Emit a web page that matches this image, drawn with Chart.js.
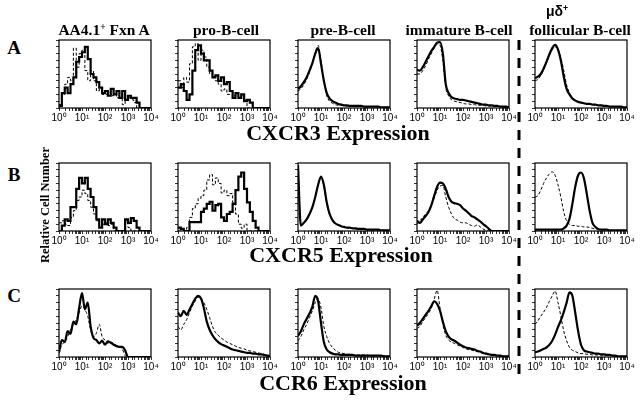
<!DOCTYPE html>
<html>
<head>
<meta charset="utf-8">
<script src="https://cdn.jsdelivr.net/npm/chart.js@4.4.1/dist/chart.umd.min.js"></script>
<style>
  body { margin: 0; background: #fff; }
  #fig { position: relative; width: 640px; height: 400px; overflow: hidden; background: #fff; }
  #fig canvas { position: absolute; }
  .t { position: absolute; white-space: nowrap; color: #000; font-family: "Liberation Serif", "Times New Roman", serif; font-weight: bold; }
  .t sup { font-size: 0.62em; vertical-align: 0.55em; line-height: 0; }
</style>
</head>
<body>
<div id="fig"></div>
<script>
// channel bins on the log axis (fluorescence intensity)
const bins = [1, 1.33, 1.78, 2.37, 3.16, 4.22, 5.62, 7.5, 10, 13.3, 17.8, 23.7, 31.6, 42.2, 56.2, 75,
  100, 133, 178, 237, 316, 422, 562, 750, 1000, 1330, 1780, 2370, 3160, 4220, 5620, 7500, 10000];
const tickLabels = ['10⁰', '10¹', '10²', '10³', '10⁴'];
const cellTypes = ['AA4.1<sup>+</sup> Fxn A', 'pro-B-cell', 'pre-B-cell', 'immature B-cell', 'follicular B-cell'];
const receptors = ['CXCR3', 'CXCR5', 'CCR6'];
const rowLetters = ['A', 'B', 'C'];

// relative cell number (% of panel height); stain = solid, ctrl = dashed
const cxcr3Fxn      = [3,22,30,22,35, 45,68,75,82,90, 72,50,45,38,30, 22,25,18,28,20, 25,15,25,12,18, 15,15,8,0,0, 0,0,0];
const cxcr3FxnCtrl  = [5,20,35,45,40, 88,60,80,85,55, 40,55,40,25,28, 20,20,22,18,20, 15,22,5,12,15, 12,8,0,0,0, 0,0,0];
const cxcr3Pro      = [30,35,25,12,20, 55,85,92,80,70, 70,55,45,48,40, 45,35,38,25,15, 22,15,20,10,12, 8,0,0,0,0, 0,0,0];
const cxcr3ProCtrl  = [40,30,45,38,65, 90,95,70,85,75, 60,50,45,40,35, 25,28,20,25,18, 22,15,18,12,0, 0,0,0,0,0, 0,0,0];
const cxcr3Pre      = [28,32,38,45,55, 66,80,88,65,40, 22,14,10,8,6, 5,4,4,3,3, 3,3,3,2,2, 2,2,2,2,1, 1,1,1];
const cxcr3PreCtrl  = [25,28,34,42,52, 66,82,92,70,40, 18,10,7,5,4, 4,3,3,2,2, 2,2,2,2,2, 2,2,2,2,1, 1,1,1];
const cxcr3Imm      = [56,55,60,68,76, 84,90,96,97,80, 35,22,16,14,13, 12,12,11,10,9, 8,7,6,5,5, 4,4,3,3,2, 2,2,1];
const cxcr3ImmCtrl  = [50,50,55,62,72, 80,88,94,92,70, 30,18,12,10,9, 8,7,6,6,5, 5,4,4,4,3, 3,3,2,2,2, 1,1,1];
const cxcr3Fol      = [44,46,50,58,68, 79,88,93,86,70, 46,28,20,14,11, 9,8,7,6,6, 5,5,4,4,3, 3,2,2,2,2, 2,1,1];
const cxcr3FolCtrl  = [40,42,48,56,66, 77,86,90,86,74, 55,34,22,15,11, 9,8,7,6,6, 5,5,4,4,3, 3,2,2,2,2, 2,1,1];

const cxcr5Fxn      = [0,8,17,15,35, 35,62,78,70,78, 62,50,35,17,5, 17,10,17,12,5, 0,0,0,17,12, 19,15,5,0,0, 0,0,0];
const cxcr5FxnCtrl  = [12,15,10,8,20, 30,45,50,60,55, 45,35,25,15,5, 10,12,8,10,0, 0,0,0,15,5, 0,0,0,0,0, 0,0,0];
const cxcr5Pro      = [5,3,0,0,13, 13,13,13,28,33, 40,43,30,38,40, 20,15,25,28,40, 60,80,86,62,42, 28,15,5,0,0, 0,0,0];
const cxcr5ProCtrl  = [0,0,0,5,20, 33,40,48,52,60, 75,83,68,78,70, 56,60,52,55,42, 25,10,4,10,0, 0,0,0,0,0, 0,0,0];
const cxcr5Pre      = [97,8,12,17,25, 35,50,68,80,68, 42,25,16,11,9, 7,6,5,5,4, 4,3,3,3,2, 2,2,2,2,1, 1,1,1];
const cxcr5PreCtrl  = [95,8,11,16,24, 34,50,68,80,66, 40,24,15,11,8, 7,6,5,4,4, 3,3,3,2,2, 2,2,2,2,1, 1,1,1];
const cxcr5Imm      = [15,12,17,22,28, 38,52,65,71,70, 62,50,43,41,40, 38,33,30,26,22, 20,17,14,10,7, 3,0,0,0,0, 0,0,0];
const cxcr5ImmCtrl  = [10,15,20,25,30, 38,48,60,66,67, 50,35,25,18,16, 13,12,12,10,8, 7,9,6,3,1, 0,0,0,0,0, 0,0,0];
const cxcr5Fol      = [2,2,2,2,2, 2,2,2,2,2, 4,8,18,40,65, 82,86,78,55,30, 12,6,3,2,2, 2,1,1,1,1, 1,1,1];
const cxcr5FolCtrl  = [50,52,60,70,78, 84,87,82,68,50, 28,15,10,8,8, 7,7,6,6,5, 4,3,3,2,2, 2,1,1,1,1, 1,1,1];

const ccr6Fxn       = [7,25,22,38,34, 52,48,72,94,70, 80,45,28,25,20, 24,18,23,21,18, 16,15,15,10,0, 0,0,0,0,0, 0,0,0];
const ccr6FxnCtrl   = [5,18,22,30,40, 48,55,65,75,70, 60,40,30,35,48, 30,25,20,22,20, 17,15,12,2,0, 0,0,0,0,0, 0,0,0];
const ccr6Pro       = [65,60,68,62,70, 78,86,90,86,72, 52,40,32,26,22, 19,17,15,13,11, 10,9,8,7,6, 6,5,5,4,4, 3,2,1];
const ccr6ProCtrl   = [45,40,48,55,65, 75,82,88,86,80, 70,58,45,36,32, 28,25,22,20,18, 16,14,13,12,10, 9,8,7,6,5, 4,3,2];
const ccr6Pre       = [31,38,48,56,64, 74,90,82,50,22, 11,7,5,4,4, 3,3,3,3,3, 2,2,2,2,2, 2,2,2,2,2, 1,1,1];
const ccr6PreCtrl   = [24,30,40,48,58, 68,80,86,72,45, 30,20,14,10,7, 6,5,4,4,3, 3,3,3,3,3, 2,2,2,2,2, 2,1,1];
const ccr6Imm       = [46,50,56,62,68, 75,82,78,68,52, 38,30,26,24,21, 18,16,14,13,12, 11,9,8,6,5, 4,3,3,2,2, 1,1,1];
const ccr6ImmCtrl   = [42,45,52,58,64, 72,85,98,72,48, 32,25,22,20,18, 16,14,12,11,10, 9,8,7,5,4, 3,3,2,2,2, 1,1,1];
const ccr6Fol       = [7,8,10,12,14, 18,24,33,44,54, 66,80,95,90,65, 38,18,10,8,7, 6,5,5,4,4, 3,3,2,2,1, 1,1,1];
const ccr6FolCtrl   = [48,53,60,66,73, 82,90,97,80,60, 38,24,14,10,8, 6,5,5,4,4, 3,3,3,3,2, 2,2,2,2,1, 1,1,1];

// [stain, control, coarse step histogram?] per row, per column
const panels = [
  [[cxcr3Fxn, cxcr3FxnCtrl, true], [cxcr3Pro, cxcr3ProCtrl, true], [cxcr3Pre, cxcr3PreCtrl, false],
   [cxcr3Imm, cxcr3ImmCtrl, false], [cxcr3Fol, cxcr3FolCtrl, false]],
  [[cxcr5Fxn, cxcr5FxnCtrl, true], [cxcr5Pro, cxcr5ProCtrl, true], [cxcr5Pre, cxcr5PreCtrl, false],
   [cxcr5Imm, cxcr5ImmCtrl, false], [cxcr5Fol, cxcr5FolCtrl, false]],
  [[ccr6Fxn, ccr6FxnCtrl, false], [ccr6Pro, ccr6ProCtrl, false], [ccr6Pre, ccr6PreCtrl, false],
   [ccr6Imm, ccr6ImmCtrl, false], [ccr6Fol, ccr6FolCtrl, false]],
];

// layout
const colLeft = [59, 178, 298, 417, 535];
const rowTop = [40, 163, 289];
const boxW = 92, boxH = 68;
const padL = 10, padR = 12, padT = 4, axisH = 17;

const fig = document.getElementById('fig');

const frame = {
  id: 'frame',
  afterDraw(chart) {
    const a = chart.chartArea;
    const ctx = chart.ctx;
    ctx.save();
    ctx.strokeStyle = '#000';
    ctx.lineWidth = 1.2;
    ctx.strokeRect(a.left, a.top, a.right - a.left, a.bottom - a.top);
    ctx.restore();
  },
};

function series(values, solid, coarse) {
  return {
    data: bins.map((x, i) => ({ x, y: values[i] })),
    borderColor: '#000',
    borderWidth: solid ? 2.2 : 1,
    borderDash: solid ? [] : [3, 2],
    pointRadius: 0,
    stepped: coarse,
    cubicInterpolationMode: coarse ? 'default' : 'monotone',
    fill: false,
  };
}

function drawPanel(r, c) {
  const [stain, ctrl, coarse] = panels[r][c];
  const canvas = document.createElement('canvas');
  canvas.width = boxW + padL + padR;
  canvas.height = boxH + padT + axisH;
  canvas.style.left = (colLeft[c] - padL) + 'px';
  canvas.style.top = (rowTop[r] - padT) + 'px';
  fig.appendChild(canvas);

  new Chart(canvas, {
    type: 'line',
    data: { datasets: [series(stain, true, coarse), series(ctrl, false, coarse)] },
    options: {
      responsive: false,
      animation: false,
      devicePixelRatio: 1,
      layout: { padding: { left: 0, right: padR, top: padT, bottom: 0 } },
      plugins: { legend: { display: false }, tooltip: { enabled: false } },
      scales: {
        x: {
          type: 'logarithmic',
          min: 1,
          max: 10000,
          border: { display: false },
          grid: { drawOnChartArea: false, tickLength: 3, color: '#000', lineWidth: 0.8 },
          ticks: {
            autoSkip: false,
            maxRotation: 0,
            padding: 1,
            color: '#000',
            font: { family: 'Liberation Sans', size: 10 },
            callback: (v) => {
              const p = Math.round(Math.log10(v));
              return Math.abs(v - Math.pow(10, p)) < 1e-6 ? tickLabels[p] : '';
            },
          },
          afterFit(s) { s.height = axisH; },
        },
        y: {
          min: 0,
          max: 100,
          border: { display: false },
          grid: { drawOnChartArea: false, tickLength: 3, color: '#000', lineWidth: 0.8 },
          ticks: { display: false, stepSize: 10 },
          afterFit(s) { s.width = padL; },
        },
      },
    },
    plugins: [frame],
  });
}

for (let r = 0; r < 3; r++) {
  for (let c = 0; c < 5; c++) drawPanel(r, c);
}

// text, positioned by baseline
function label(html, x, baseline, size, extra) {
  const d = document.createElement('div');
  d.className = 't';
  d.innerHTML = html;
  d.style.fontSize = size + 'px';
  d.style.lineHeight = size + 'px';
  d.style.left = x + 'px';
  d.style.top = (baseline - 0.84 * size) + 'px';
  d.style.transform = 'translateX(-50%)';
  if (extra) Object.assign(d.style, extra);
  fig.appendChild(d);
  return d;
}

const titleX = [104, 226, 343, 459, 580];
cellTypes.forEach((t, i) => label(t, titleX[i], 35, 15.5));
label('μδ<sup>+</sup>', 557, 16, 14, { fontFamily: '"Liberation Sans", sans-serif' });

const exprBase = [140, 262, 390];
const exprX = [338, 341, 343];
receptors.forEach((t, i) => label(t + ' Expression', exprX[i], exprBase[i], 22));

const letterBase = [54, 181, 302];
rowLetters.forEach((t, i) => label(t, 14, letterBase[i], 19));

const yl = document.createElement('div');
yl.className = 't';
yl.textContent = 'Relative Cell Number';
Object.assign(yl.style, {
  fontSize: '12.5px', lineHeight: '13px', left: '45px', top: '205px',
  transform: 'translate(-50%, -50%) rotate(-90deg)',
});
fig.appendChild(yl);

// dashed separator before the follicular column
const svgNS = 'http://www.w3.org/2000/svg';
const svg = document.createElementNS(svgNS, 'svg');
svg.setAttribute('width', 640);
svg.setAttribute('height', 400);
svg.style.position = 'absolute';
svg.style.left = '0px';
svg.style.top = '0px';
const ln = document.createElementNS(svgNS, 'line');
ln.setAttribute('x1', 519); ln.setAttribute('x2', 519);
ln.setAttribute('y1', 40); ln.setAttribute('y2', 374);
ln.setAttribute('stroke', '#000');
ln.setAttribute('stroke-width', 3);
ln.setAttribute('stroke-dasharray', '10 8');
svg.appendChild(ln);
fig.appendChild(svg);
</script>
</body>
</html>
